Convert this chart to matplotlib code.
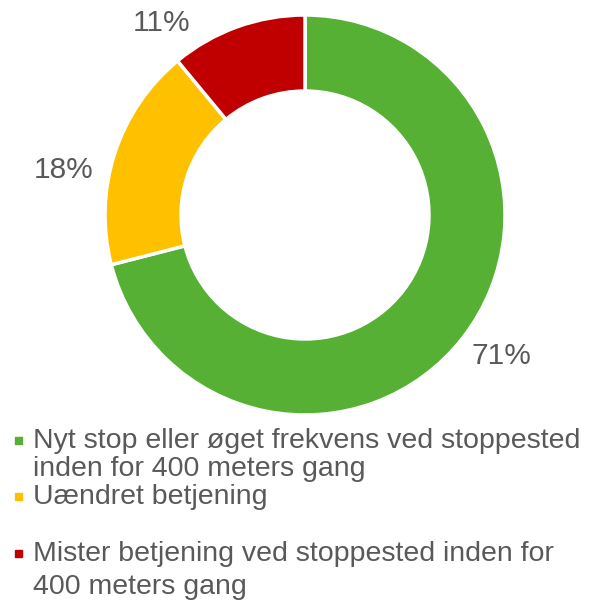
import matplotlib.pyplot as plt
from matplotlib.patches import Rectangle

plt.rcParams['font.family'] = ['Liberation Sans', 'DejaVu Sans']

# data
categories = [
    "Nyt stop eller øget frekvens ved stoppested\ninden for 400 meters gang",
    "Uændret betjening",
    "Mister betjening ved stoppested inden for\n400 meters gang",
]
shares = [71, 18, 11]
colors = ['#55B033', '#FFC000', '#C00000']

# where the percent labels sit (axes data units, radius = 1)
label_pos = [(0.98, -0.705), (-1.205, 0.225), (-0.715, 0.96)]
# baselines of legend lines (pixels from top)
legend_baselines = [[448, 476], [504], [561, 594]]

W, H = 597, 606
fig = plt.figure(figsize=(W / 100, H / 100), dpi=100)

cx, cy, r = 305, 215, 200
ax = fig.add_axes([(cx - r) / W, (H - cy - r) / H, 2 * r / W, 2 * r / H])
ax.pie(shares, colors=colors, startangle=90, counterclock=False, radius=1,
       wedgeprops=dict(width=0.38, edgecolor='white', linewidth=2.5))
ax.set_xlim(-1, 1)
ax.set_ylim(-1, 1)
ax.set_aspect('equal')
ax.axis('off')

for v, (x, y) in zip(shares, label_pos):
    ax.text(x, y, f"{v}%", ha='center', va='center', fontsize=21.5, color='#595959')

# legend drawn by hand
for label, col, bases in zip(categories, colors, legend_baselines):
    lines = label.split("\n")
    for line, b in zip(lines, bases):
        fig.text(33 / W, 1 - b / H, line, ha='left', va='baseline',
                 fontsize=20.5, color='#595959')
    mid = bases[0] - 8
    fig.patches.append(Rectangle((15 / W, 1 - (mid + 3.5) / H), 7 / W, 7 / H,
                                 transform=fig.transFigure, color=col))

fig.savefig('out.png', dpi=100)
